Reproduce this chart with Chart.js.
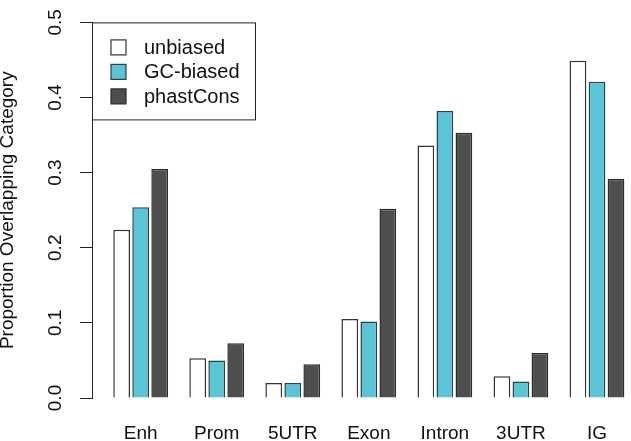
<!DOCTYPE html>
<html>
<head>
<meta charset="utf-8">
<script src="https://cdn.jsdelivr.net/npm/chart.js@4/dist/chart.umd.min.js"></script>
<style>
  html, body { margin: 0; padding: 0; background: #fff; }
  #wrap { width: 631px; height: 441px; }
</style>
</head>
<body>
<div id="wrap"><canvas id="overlapChart"></canvas></div>
<script>
// categories and series
var categories = ['Enh', 'Prom', '5UTR', 'Exon', 'Intron', '3UTR', 'IG'];
var unbiased   = [0.224, 0.053, 0.020, 0.105, 0.336, 0.029, 0.449];
var gcBiased   = [0.254, 0.050, 0.020, 0.102, 0.382, 0.022, 0.421];
var phastCons  = [0.305, 0.073, 0.045, 0.252, 0.353, 0.060, 0.292];
var seriesNames = ['unbiased', 'GC-biased', 'phastCons'];
var yTicks = [0.0, 0.1, 0.2, 0.3, 0.4, 0.5];

var axisColor = '#222';
var fontFam = '"Liberation Sans", Arial, sans-serif';

// turn a value array into {x,y} points on the numeric x axis
function points(vals) {
  return vals.map(function (v, i) { return { x: i, y: v }; });
}

function makeSet(label, vals, fill, border) {
  return {
    label: label,
    data: points(vals),
    backgroundColor: fill,
    borderColor: border,
    borderWidth: 1.5,
    categoryPercentage: 0.75,
    barPercentage: 0.88
  };
}

// legend box inside the plot, top-left, like R's legend()
var boxLegend = {
  id: 'boxLegend',
  afterDraw: function (chart) {
    var ctx = chart.ctx;
    var area = chart.chartArea;
    var x0 = area.left, y0 = area.top;
    ctx.save();
    ctx.strokeStyle = axisColor;
    ctx.lineWidth = 1;
    ctx.strokeRect(x0 + 0.5, y0 + 0.5, 163, 97);
    ctx.font = '20px ' + fontFam;
    ctx.textBaseline = 'middle';
    ctx.textAlign = 'left';
    chart.data.datasets.forEach(function (ds, i) {
      var cy = y0 + 25 + i * 24.5;
      ctx.fillStyle = ds.backgroundColor;
      ctx.fillRect(x0 + 19, cy - 7.5, 15, 15);
      ctx.strokeStyle = ds.borderColor;
      ctx.lineWidth = 1.2;
      ctx.strokeRect(x0 + 19, cy - 7.5, 15, 15);
      ctx.fillStyle = '#111';
      ctx.fillText(ds.label, x0 + 52, cy + 1);
    });
    ctx.restore();
  }
};

var ctx1 = document.getElementById('overlapChart');

var chart = new Chart(ctx1, {
  type: 'bar',
  data: {
    datasets: [
      makeSet(seriesNames[0], unbiased, '#ffffff', '#333333'),
      makeSet(seriesNames[1], gcBiased, '#59c5d6', '#2f3f44'),
      makeSet(seriesNames[2], phastCons, '#4d4e4e', '#2a2a2a')
    ]
  },
  options: {
    responsive: true,
    maintainAspectRatio: false,
    animation: false,
    layout: { padding: { top: 13, right: 0, left: 0, bottom: 0 } },
    plugins: {
      legend: { display: false },
      tooltip: { enabled: false }
    },
    scales: {
      x: {
        type: 'linear',
        offset: false,
        min: -0.64,
        max: 6.37,
        grid: { display: false, drawTicks: false, offset: false },
        border: { display: false },
        afterBuildTicks: function (scale) {
          scale.ticks = categories.map(function (c, i) { return { value: i }; });
        },
        afterFit: function (scale) { scale.height = 43; },
        ticks: {
          autoSkip: false,
          maxRotation: 0,
          padding: 24,
          color: '#111',
          font: { family: fontFam, size: 19 },
          callback: function (v) { return categories[v]; }
        }
      },
      y: {
        min: 0,
        max: 0.5,
        afterBuildTicks: function (scale) {
          scale.ticks = yTicks.map(function (v) { return { value: v }; });
        },
        afterFit: function (scale) { scale.width = 92; },
        grid: {
          display: true,
          drawOnChartArea: false,
          drawTicks: true,
          tickLength: 12,
          color: axisColor,
          lineWidth: 1
        },
        border: { display: true, color: axisColor, width: 1 },
        ticks: {
          minRotation: 90,
          maxRotation: 90,
          crossAlign: 'center',
          padding: 11,
          color: '#111',
          font: { family: fontFam, size: 19 },
          callback: function (v) { return v.toFixed(1); }
        },
        title: {
          display: true,
          text: 'Proportion Overlapping Category',
          padding: { top: -4, bottom: 0 },
          color: '#111',
          font: { family: fontFam, size: 19 }
        }
      }
    }
  },
  plugins: [boxLegend]
});
</script>
</body>
</html>
